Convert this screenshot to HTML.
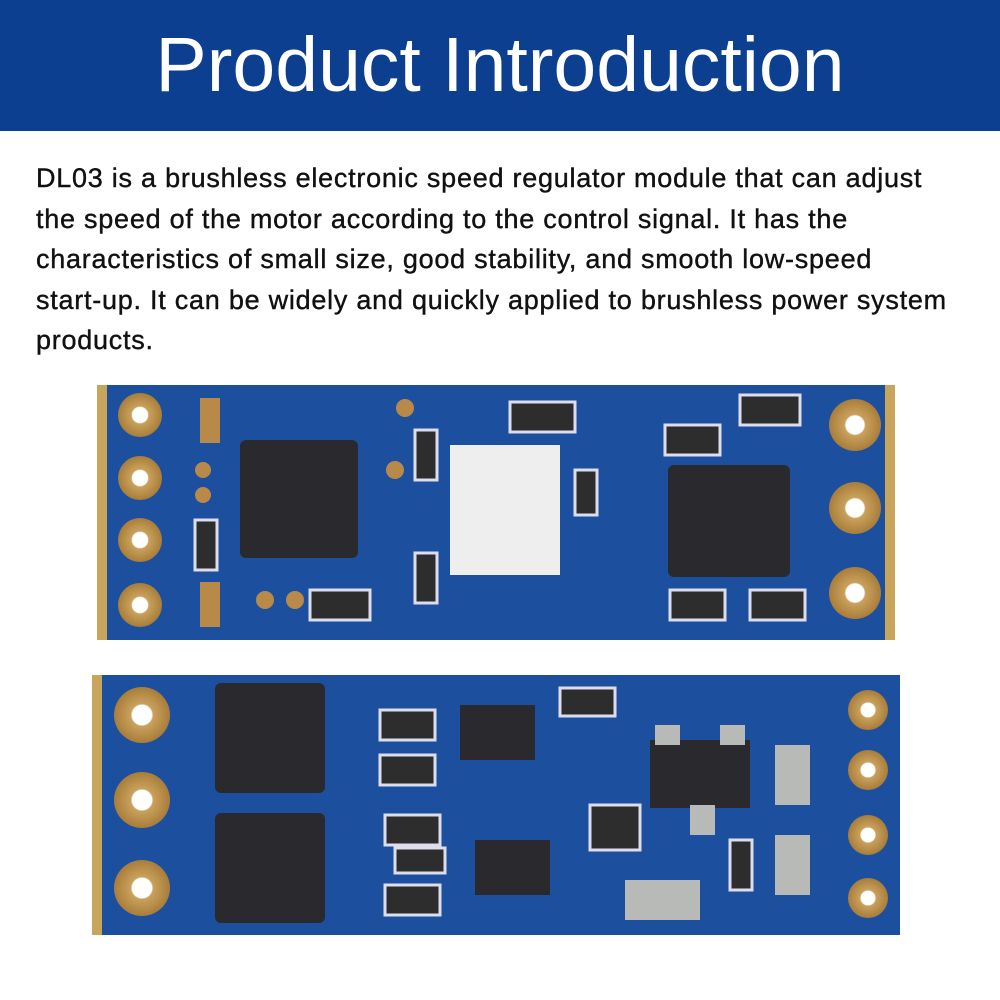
<!DOCTYPE html>
<html><head><meta charset="utf-8"><style>
html,body{margin:0;padding:0;background:#fff;width:1000px;height:1000px;overflow:hidden}
.hdr{position:absolute;left:0;top:0;width:1000px;height:131px;background:#0c3f8f;color:#fff;font-family:"Liberation Sans",sans-serif;font-size:77px;text-align:center;line-height:131px}
.txt{position:absolute;left:36px;top:158px;width:960px;font-family:"Liberation Sans",sans-serif;font-size:27px;letter-spacing:0.75px;line-height:40.5px;color:#111;white-space:nowrap;-webkit-text-stroke:0.4px #111}
svg{position:absolute;left:0;top:0}
</style></head><body>
<div class="hdr">Product Introduction</div>
<div class="txt">DL03 is a brushless electronic speed regulator module that can adjust<br>the speed of the motor according to the control signal. It has the<br>characteristics of small size, good stability, and smooth low-speed<br>start-up. It can be widely and quickly applied to brushless power system<br>products.</div>
<svg width="1000" height="1000" viewBox="0 0 1000 1000">
<defs>
<radialGradient id="pad"><stop offset="0.35" stop-color="#fff"/><stop offset="0.4" stop-color="#c9a15c"/><stop offset="1" stop-color="#a87d3a"/></radialGradient>
</defs>
<rect x="97" y="385" width="798" height="255" fill="#1d4f9f"/>
<rect x="97" y="385" width="10" height="255" fill="#c9a55c"/>
<rect x="885" y="385" width="10" height="255" fill="#c9a55c"/>
<g fill="url(#pad)">
<circle cx="140" cy="415" r="22"/><circle cx="140" cy="478" r="22"/><circle cx="140" cy="540" r="22"/><circle cx="140" cy="605" r="22"/>
<circle cx="855" cy="425" r="26"/><circle cx="855" cy="508" r="26"/><circle cx="855" cy="593" r="26"/>
</g>
<rect x="240" y="440" width="118" height="118" rx="6" fill="#2a2a2e"/>
<rect x="450" y="445" width="110" height="130" fill="#eeeeee"/>
<rect x="668" y="465" width="122" height="112" rx="6" fill="#2a2a2e"/>
<g fill="#2d2d2d" stroke="#dde" stroke-width="3">
<rect x="415" y="430" width="22" height="50"/><rect x="415" y="553" width="22" height="50"/>
<rect x="510" y="402" width="65" height="30"/><rect x="665" y="425" width="55" height="30"/>
<rect x="740" y="395" width="60" height="30"/><rect x="670" y="590" width="55" height="30"/>
<rect x="750" y="590" width="55" height="30"/><rect x="310" y="590" width="60" height="30"/>
<rect x="575" y="470" width="22" height="45"/><rect x="195" y="520" width="22" height="50"/>
</g>
<g fill="#b9894a"><rect x="200" y="398" width="20" height="45"/><rect x="200" y="582" width="20" height="45"/>
<circle cx="405" cy="408" r="9"/><circle cx="395" cy="470" r="9"/><circle cx="265" cy="600" r="9"/><circle cx="295" cy="600" r="9"/><circle cx="203" cy="470" r="8"/><circle cx="203" cy="495" r="8"/></g>
<rect x="92" y="675" width="808" height="260" fill="#1d4f9f"/>
<rect x="92" y="675" width="10" height="260" fill="#c9a55c"/>
<g fill="url(#pad)">
<circle cx="142" cy="715" r="28"/><circle cx="142" cy="800" r="28"/><circle cx="142" cy="888" r="28"/>
<circle cx="868" cy="710" r="20"/><circle cx="868" cy="770" r="20"/><circle cx="868" cy="835" r="20"/><circle cx="868" cy="898" r="20"/>
</g>
<rect x="215" y="683" width="110" height="110" rx="6" fill="#2a2a2e"/>
<rect x="215" y="813" width="110" height="110" rx="6" fill="#2a2a2e"/>
<rect x="460" y="705" width="75" height="55" fill="#2a2a2e"/>
<rect x="475" y="840" width="75" height="55" fill="#2a2a2e"/>
<rect x="650" y="740" width="100" height="68" fill="#2a2a2e"/>
<g fill="#2d2d2d" stroke="#dde" stroke-width="3">
<rect x="380" y="710" width="55" height="30"/><rect x="380" y="755" width="55" height="30"/>
<rect x="385" y="815" width="55" height="30"/><rect x="385" y="885" width="55" height="30"/>
<rect x="395" y="848" width="50" height="25"/><rect x="560" y="688" width="55" height="28"/>
<rect x="590" y="805" width="50" height="45"/><rect x="730" y="840" width="22" height="50"/>
</g>
<g fill="#b8bab8"><rect x="625" y="880" width="75" height="40"/><rect x="775" y="745" width="35" height="60"/><rect x="775" y="835" width="35" height="60"/>
<rect x="655" y="725" width="25" height="20"/><rect x="720" y="725" width="25" height="20"/><rect x="690" y="805" width="25" height="30"/></g>
</svg>
</body></html>
